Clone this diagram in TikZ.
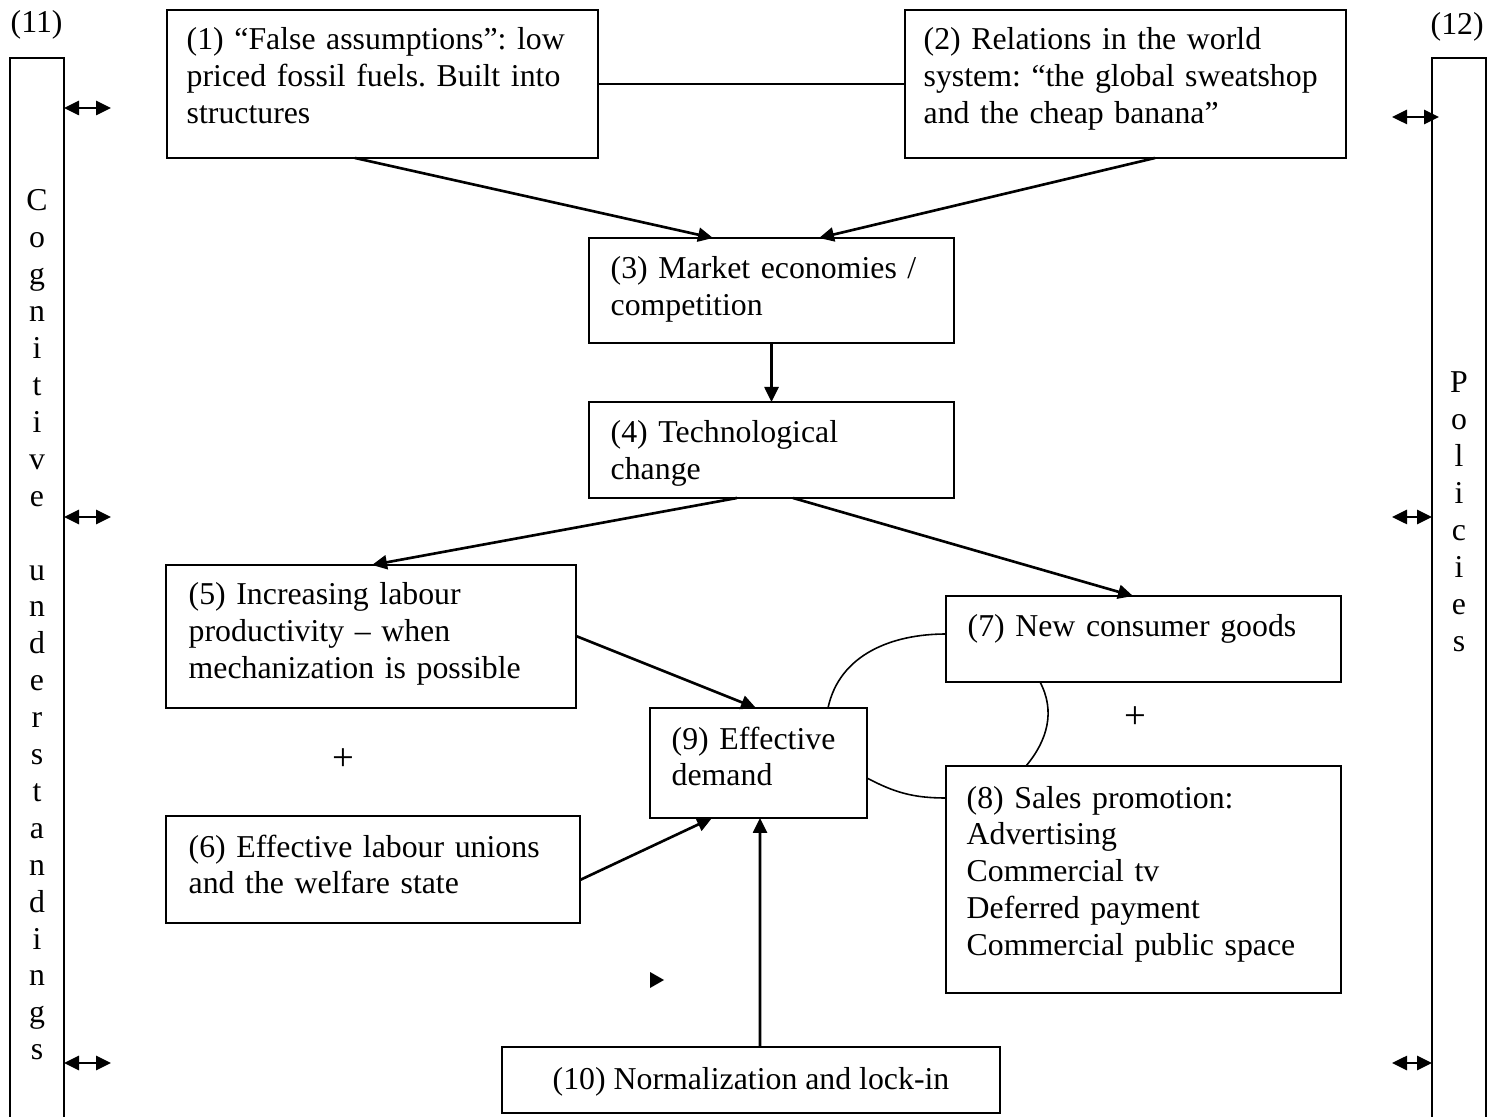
\documentclass[tikz,border=0pt]{standalone}
\usepackage{fontspec}
\setmainfont{Liberation Serif}
\usetikzlibrary{arrows.meta}
\frenchspacing

\begin{document}
\begin{tikzpicture}[x=0.1mm, y=-0.1mm,
  >={Triangle[length=1.5mm, width=1.4mm]},
  every node/.style={font=\fontsize{9.05}{10.5}\selectfont},
  fbox/.style={draw, line width=0.6pt, anchor=north west, inner sep=0pt, outer sep=0pt},
  ftxt/.style={anchor=base west, align=left, inner sep=0pt, text width=#1},
  ftxt/.default=40mm,
  side/.style={anchor=base, align=center, inner sep=0pt, text width=5mm},
  flow/.style={->, line width=0.75pt},
  link/.style={line width=0.45pt}
]
\useasboundingbox (0,0) rectangle (1494,1117);
\node[fbox, minimum width=43.1mm, minimum height=14.8mm] (b1) at (167,10) {};
\node[fbox, minimum width=44.1mm, minimum height=14.8mm] (b2) at (905,10) {};
\node[fbox, minimum width=36.5mm, minimum height=10.5mm] (b3) at (589,238) {};
\node[fbox, minimum width=36.5mm, minimum height=9.6mm] (b4) at (589,402) {};
\node[fbox, minimum width=41mm, minimum height=14.3mm] (b5) at (166,565) {};
\node[fbox, minimum width=41.4mm, minimum height=10.7mm] (b6) at (166,816) {};
\node[fbox, minimum width=39.5mm, minimum height=8.6mm] (b7) at (946,596) {};
\node[fbox, minimum width=39.5mm, minimum height=22.7mm] (b8) at (946,766) {};
\node[fbox, minimum width=21.7mm, minimum height=11mm] (b9) at (650,708) {};
\node[fbox, minimum width=49.8mm, minimum height=6.6mm] (b10) at (502,1047) {};
\node[fbox, minimum width=5.4mm, minimum height=108mm] (b11) at (10,58) {};
\node[fbox, minimum width=5.4mm, minimum height=108mm] (b12) at (1432,58) {};
\node[ftxt=41mm] (t1) at (186,50) {(1) ``False assumptions'': low\\priced fossil fuels. Built into\\structures};
\node[ftxt=42mm] (t2) at (923,50) {(2) Relations in the world\\system: ``the global sweatshop\\and the cheap banana''};
\node[ftxt=33mm] (t3) at (610,279) {(3) Market economies /\\competition};
\node[ftxt=33mm] (t4) at (610,443) {(4) Technological\\change};
\node[ftxt=38mm] (t5) at (188,605) {(5) Increasing labour\\productivity -- when\\mechanization is possible};
\node[ftxt=38mm] (t6) at (188,857) {(6) Effective labour unions\\and the welfare state};
\node[ftxt=37mm] (t7) at (967,637) {(7) New consumer goods};
\node[ftxt=37mm] (t8) at (966,808) {(8) Sales promotion:\\Advertising\\Commercial tv\\Deferred payment\\Commercial public space};
\node[ftxt=19mm] (t9) at (671,749) {(9) Effective\\demand};
\node[anchor=base, inner sep=0pt] (t10) at (751,1089) {(10) Normalization and lock-in};
\node[anchor=base west, inner sep=0pt] (n11) at (10,33) {(11)};
\node[anchor=base west, inner sep=0pt] (n12) at (1430,35) {(12)};
\node[side] (v11) at (37,211) {C\\o\\g\\n\\i\\t\\i\\v\\e\\[10.5pt]u\\n\\d\\e\\r\\s\\t\\a\\n\\d\\i\\n\\g\\s};
\node[side] (v12) at (1459,393) {P\\o\\l\\i\\c\\i\\e\\s};
\node[font=\fontsize{11}{12}\selectfont] (p1) at (343,760) {+};
\node[font=\fontsize{11}{12}\selectfont] (p2) at (1135,718) {+};
\foreach \yy in {108,517,1063}{
  \coordinate (l\yy) at (111,\yy);
  \draw[<->, line width=0.75pt] (b11.east |- l\yy) -- (l\yy);
}
\foreach \yy/\ov in {117/-0.7mm, 517/0mm, 1063/0mm}{
  \coordinate (r\yy) at (1392,\yy);
  \draw[<->, line width=0.75pt, shorten >=\ov] (r\yy) -- (b12.west |- r\yy);
}
\draw[link] (b1.east) -- (b2.west);
\draw[flow] ([xshift=18.8mm]b1.south west) -- ([xshift=12.4mm]b3.north west);
\draw[flow] ([xshift=25mm]b2.south west) -- ([xshift=23mm]b3.north west);
\draw[flow] (b3.south) -- (b4.north);
\draw[flow] ([xshift=14.8mm]b4.south west) -- ([xshift=20.6mm]b5.north west);
\draw[flow] ([xshift=20.4mm]b4.south west) -- ([xshift=18.7mm]b7.north west);
\draw[flow] ([yshift=-7.1mm]b5.north east) -- ([xshift=10.6mm]b9.north west);
\draw[flow] ([yshift=-6.4mm]b6.north east) -- ([xshift=6.2mm]b9.south west);
\draw[flow] ([xshift=0.9mm]b10.north) -- ([xshift=11mm]b9.south west);
\draw[link] ([xshift=17.8mm]b9.north west) to[out=78, in=180] ([yshift=-3.8mm]b7.north west);
\draw[link] ([yshift=-7mm]b9.north east) to[out=-28, in=180] ([yshift=-3.2mm]b8.north west);
\draw[link] ([xshift=9.4mm]b7.south west) to[out=-62, in=50] ([xshift=8mm]b8.north west);
\fill (650,972) -- (664,980) -- (650,988) -- cycle;
\end{tikzpicture}
\end{document}
